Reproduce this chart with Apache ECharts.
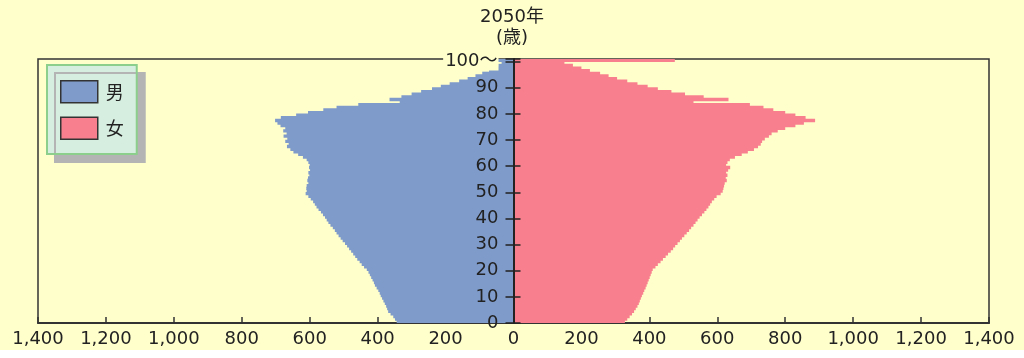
<!DOCTYPE html>
<html>
<head>
<meta charset="utf-8">
<script src="https://cdn.jsdelivr.net/npm/echarts@6/dist/echarts.min.js"></script>
<style>
html, body { margin: 0; padding: 0; background: #fff; }
#c { width: 1024px; height: 358px; background: linear-gradient(#ffffcc 0, #ffffcc 350px, #fff 350px); }
</style>
</head>
<body>
<div id="c"></div>
<script>
// 2050年 人口ピラミッド（千人）
const ages = Array.from({ length: 101 }, (_, i) => (i === 100 ? '100〜' : String(i)));

const male = [
  344, 349, 354, 362, 369, 372, 375, 379, 383, 387,
  391, 394, 398, 403, 408, 411, 415, 419, 423, 427,
  432, 440, 447, 453, 460, 466, 472, 478, 484, 490,
  496, 503, 509, 515, 521, 526, 532, 539, 545, 550,
  555, 561, 567, 574, 580, 585, 590, 597, 604, 612,
  609, 610, 609, 604, 607, 605, 601, 604, 599, 602,
  600, 604, 609, 620, 634, 648, 657, 667, 662, 672,
  666, 677, 668, 678, 672, 686, 695, 702, 685, 640,
  605, 560, 521, 457, 335, 365, 330, 300, 272, 240,
  214, 188, 160, 135, 112, 92, 72, 58, 45, 35,
  80
];

const female = [
  328, 335, 342, 349, 355, 360, 365, 369, 372, 375,
  378, 382, 385, 389, 392, 395, 398, 401, 404, 407,
  410, 418, 425, 433, 440, 448, 455, 463, 470, 476,
  483, 490, 496, 503, 510, 517, 523, 530, 536, 542,
  548, 555, 562, 568, 574, 579, 584, 591, 598, 610,
  616, 618, 620, 622, 628, 625, 630, 626, 632, 638,
  626, 630, 637, 652, 672, 690, 708, 720, 728, 732,
  740, 752, 760, 778, 800, 830, 855, 888, 860, 830,
  800, 765, 736, 696, 530, 633, 560, 505, 465, 425,
  395, 365, 335, 305, 280, 255, 225, 200, 175, 150,
  475
];

const BLUE = '#7f9bca';
const PINK = '#f8808e';
const BG = '#ffffcc';
const FONT = '"DejaVu Sans", "Noto Sans CJK JP", sans-serif';

const chart = echarts.init(document.getElementById('c'));

const ageAxis = {
  gridIndex: 1, type: 'value', min: 0, max: 101, interval: 10,
  position: 'left', z: 10, splitLine: { show: false }
};

chart.setOption({
  animation: false,
  textStyle: { fontFamily: FONT },
  title: {
    text: '2050年', subtext: '(歳)', left: 'center', top: 8, itemGap: 3, padding: 0,
    textStyle: { fontSize: 18, fontWeight: 'normal', color: '#222', fontFamily: FONT },
    subtextStyle: { fontSize: 18, color: '#222', fontFamily: FONT }
  },
  legend: {
    orient: 'vertical', left: 47, top: 65,
    itemWidth: 37, itemHeight: 22, itemGap: 13, padding: [15, 13, 14, 13],
    backgroundColor: '#d6eedf', borderColor: '#8ccf8c', borderWidth: 2,
    shadowColor: '#b4b4b4', shadowOffsetX: 8, shadowOffsetY: 8, shadowBlur: 0,
    icon: 'rect', itemStyle: { borderColor: '#333', borderWidth: 1.5 },
    textStyle: { fontSize: 18, color: '#222', fontFamily: 'Noto Sans CJK JP', padding: [0, 0, 0, 3] },
    data: ['男', '女']
  },
  grid: [
    { left: 38, right: 35, top: 59, bottom: 35, show: true, borderColor: '#333', borderWidth: 1.5 },
    { left: 513.5, right: 35, top: 59, bottom: 35 }
  ],
  xAxis: [
    {
      gridIndex: 0, type: 'value', min: -1400, max: 1400, interval: 200,
      axisLine: { show: true, onZero: false, lineStyle: { color: '#333', width: 2 } },
      axisTick: { show: true, inside: true, length: 6, lineStyle: { color: '#333', width: 1.5 } },
      axisLabel: { fontSize: 18, color: '#222', margin: 7,
        formatter: v => Math.abs(v).toLocaleString('en-US') },
      splitLine: { show: false }
    },
    { gridIndex: 1, type: 'value', show: false }
  ],
  yAxis: [
    { gridIndex: 0, type: 'category', data: ages, show: false },
    Object.assign({}, ageAxis, {
      axisLine: { show: true, lineStyle: { color: '#222', width: 2 } },
      axisTick: { show: true, length: 8, lineStyle: { color: '#222', width: 1.5 } },
      axisLabel: {
        fontSize: 18, color: '#222', margin: 15,
        formatter: v => (v === 100 ? '{t|100〜}' : v > 100 ? '' : String(v)),
        rich: { t: { fontSize: 18, color: '#222', backgroundColor: BG, padding: [0, 1, 0, 2] } }
      }
    }),
    Object.assign({}, ageAxis, {
      axisLine: { show: false },
      axisTick: { show: true, inside: true, length: 7, lineStyle: { color: '#222', width: 1.5 } },
      axisLabel: { show: false }
    })
  ],
  series: [
    {
      name: '男', type: 'bar', xAxisIndex: 0, yAxisIndex: 0,
      data: male.map(v => -v), barGap: '-100%', barWidth: 3.4,
      itemStyle: { color: BLUE }
    },
    {
      name: '女', type: 'bar', xAxisIndex: 0, yAxisIndex: 0,
      data: female, barGap: '-100%', barWidth: 3.4,
      itemStyle: { color: PINK }
    }
  ]
});
</script>
</body>
</html>
